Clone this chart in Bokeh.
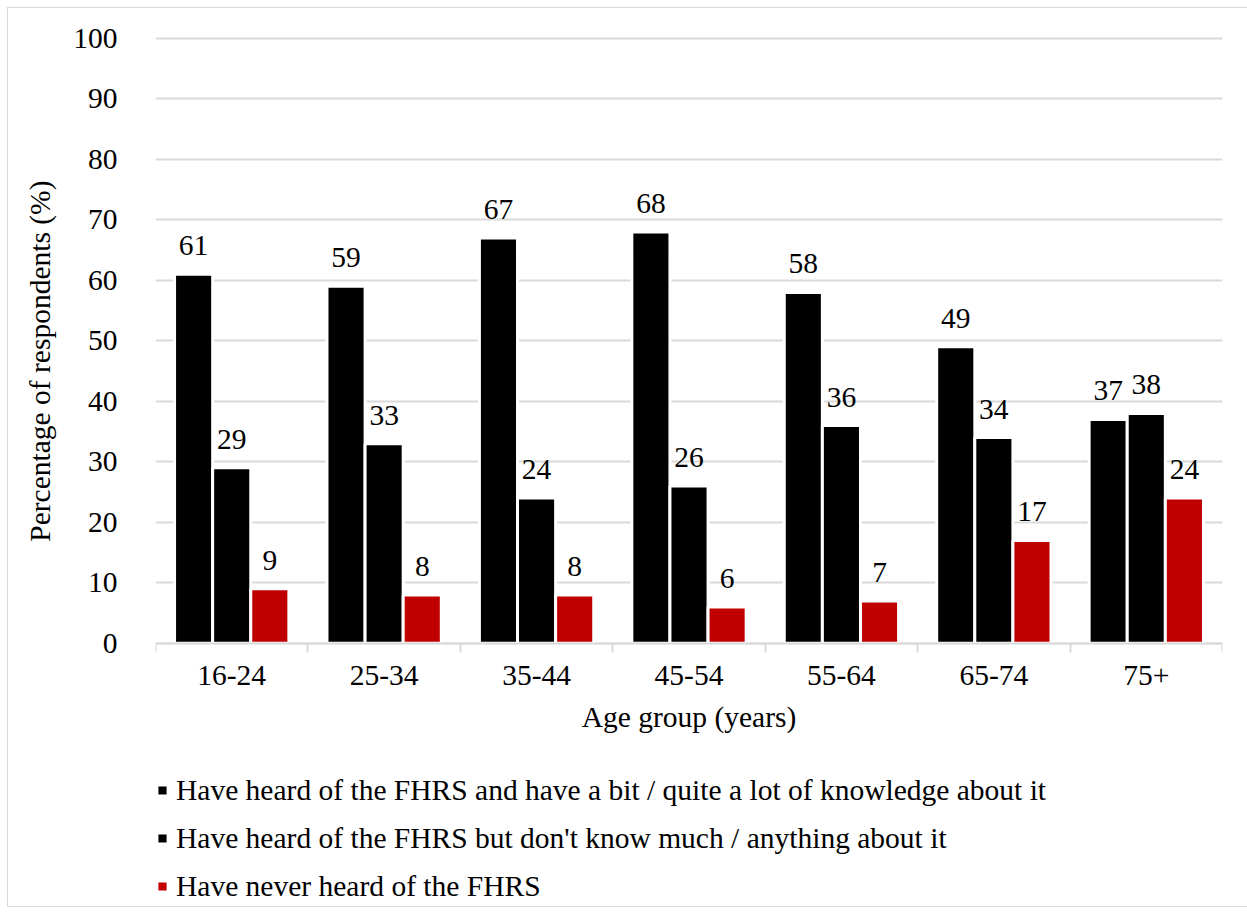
from bokeh.plotting import figure
from bokeh.models import (ColumnDataSource, FixedTicker, Range1d, LabelSet, Legend, LegendItem, Title)
from bokeh.embed import file_html
from bokeh.resources import INLINE

categories = ["16-24", "25-34", "35-44", "45-54", "55-64", "65-74", "75+"]
knowledge = [61, 59, 67, 68, 58, 49, 37]
no_knowledge = [29, 33, 24, 26, 36, 34, 38]
never_heard = [9, 8, 8, 6, 7, 17, 24]
series_names = [
    "Have heard of the FHRS and have a bit / quite a lot of knowledge about it",
    "Have heard of the FHRS but don't know much / anything about it",
    "Have never heard of the FHRS",
]
colors = ["#000000", "#000000", "#C00000"]
yticks = list(range(0, 101, 10))

FONT = "Liberation Serif"
FS = "29.5px"

# frame extends below the x axis so the legend can live inside it
p = figure(frame_width=1067, frame_height=870, output_backend="svg", toolbar_location=None,
           x_range=Range1d(0, len(categories)), y_range=Range1d(-43.5, 100.3),
           min_border_left=147, min_border_right=25, min_border_top=28, min_border_bottom=0)
p.outline_line_color = None
p.background_fill_color = "white"
p.border_fill_color = "white"
p.styles = {"margin-left": "8px", "margin-top": "8px", "outline": "1px solid #d9d9d9"}

offsets = [-0.25, 0.0, 0.25]
renderers = []
for vals, off, col in zip([knowledge, no_knowledge, never_heard], offsets, colors):
    src = ColumnDataSource(dict(x=[i + 0.5 + off for i in range(len(categories))], top=vals,
                                lab=[str(v) for v in vals]))
    r = p.vbar(x="x", top="top", width=0.25, bottom=0, source=src, fill_color=col,
               line_color="white", line_width=3)
    renderers.append(r)
    p.add_layout(LabelSet(x="x", y="top", text="lab", source=src, text_align="center",
                          text_baseline="alphabetic", y_offset=19, text_font=FONT,
                          text_font_size=FS, text_color="black"))

# y axis
p.yaxis.ticker = FixedTicker(ticks=yticks)
p.yaxis.axis_line_color = None
p.yaxis.major_tick_line_color = None
p.yaxis.minor_tick_line_color = None
p.yaxis.major_label_standoff = 32
p.ygrid.grid_line_color = "#d9d9d9"
p.ygrid.grid_line_width = 2
p.xgrid.grid_line_color = None

# x axis drawn at y = 0
p.xaxis.fixed_location = 0
p.xaxis.ticker = FixedTicker(ticks=[i + 0.5 for i in range(len(categories))],
                             minor_ticks=list(range(len(categories) + 1)))
p.xaxis.major_label_overrides = {i + 0.5: c for i, c in enumerate(categories)}
p.xaxis.axis_line_color = "#d9d9d9"
p.xaxis.axis_line_width = 2
p.xaxis.major_tick_line_color = None
p.xaxis.major_tick_out = 0
p.xaxis.major_tick_in = 0
p.xaxis.minor_tick_line_color = "#d9d9d9"
p.xaxis.minor_tick_line_width = 2
p.xaxis.minor_tick_out = 9
p.xaxis.minor_tick_in = 0
p.xaxis.major_label_standoff = 14
p.xaxis.axis_label = "Age group (years)"
p.xaxis.axis_label_standoff = 12

for ax in (p.xaxis, p.yaxis):
    ax.major_label_text_font = FONT
    ax.major_label_text_font_size = FS
    ax.major_label_text_color = "black"
    ax.axis_label_text_font = FONT
    ax.axis_label_text_font_size = FS
    ax.axis_label_text_font_style = "normal"
    ax.axis_label_text_color = "black"

ytitle = Title(text="Percentage of respondents (%)", align="right", offset=144,
               vertical_align="top", text_font=FONT, text_font_size=FS,
               text_font_style="normal", text_color="black", standoff=26)
p.add_layout(ytitle, "left")

legend = Legend(items=[LegendItem(label=n, renderers=[r]) for n, r in zip(series_names, renderers)],
                location=(0, 3), orientation="vertical", border_line_color=None,
                background_fill_alpha=0, label_text_font=FONT, label_text_font_size=FS,
                label_text_color="black", glyph_width=14, glyph_height=14, label_standoff=7,
                spacing=14, padding=0, margin=0, label_height=34)
p.add_layout(legend, "center")

open("out.html", "w").write(file_html(p, INLINE))
